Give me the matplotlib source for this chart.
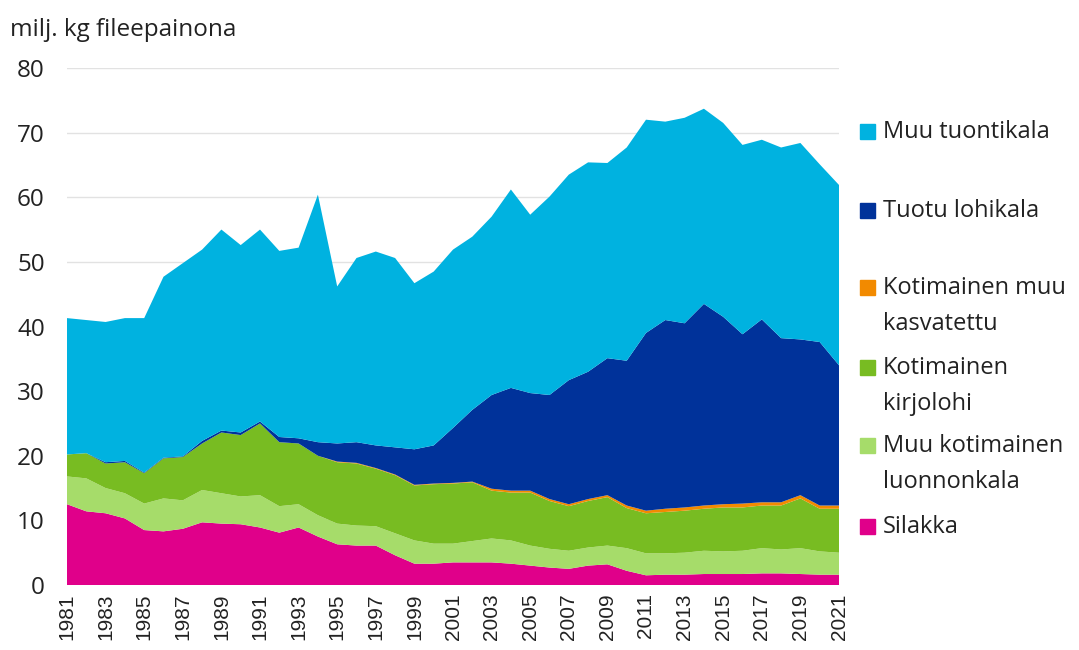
import matplotlib.pyplot as plt
from matplotlib.patches import Rectangle
import numpy as np

years = list(range(1981, 2022))

silakka = [12.5, 11.4, 11.1, 10.3, 8.5, 8.3, 8.7, 9.7, 9.5, 9.4, 8.9, 8.1, 8.9, 7.5, 6.3, 6.1, 6.1, 4.6, 3.3, 3.3,
           3.5, 3.5, 3.5, 3.3, 3.0, 2.7, 2.5, 3.0, 3.2, 2.2, 1.5, 1.6, 1.6, 1.7, 1.7, 1.7, 1.8, 1.8, 1.7, 1.6, 1.6]
muu_kotimainen = [4.3, 5.1, 3.9, 3.9, 4.1, 5.1, 4.4, 5.0, 4.7, 4.3, 5.0, 4.1, 3.6, 3.3, 3.2, 3.1, 3.0, 3.4, 3.6, 3.1,
                  2.9, 3.3, 3.7, 3.6, 3.1, 2.9, 2.8, 2.8, 2.9, 3.5, 3.4, 3.3, 3.4, 3.6, 3.5, 3.6, 3.9, 3.7, 4.0, 3.6, 3.4]
kirjolohi = [3.4, 3.9, 3.8, 4.8, 4.7, 6.2, 6.7, 7.2, 9.4, 9.5, 11.1, 9.9, 9.4, 9.2, 9.5, 9.6, 8.9, 9.0, 8.5, 9.2,
             9.3, 9.1, 7.4, 7.4, 8.2, 7.4, 6.9, 7.2, 7.5, 6.2, 6.2, 6.4, 6.5, 6.5, 6.8, 6.7, 6.6, 6.8, 7.7, 6.6, 6.8]
muu_kasvatettu = [0, 0, 0, 0, 0, 0, 0, 0, 0, 0, 0, 0, 0, 0, 0.1, 0.1, 0.1, 0.1, 0.1, 0.1,
                  0.1, 0.1, 0.3, 0.3, 0.3, 0.3, 0.3, 0.3, 0.3, 0.4, 0.4, 0.5, 0.5, 0.5, 0.5, 0.6, 0.5, 0.5, 0.5, 0.5, 0.5]
tuotu_lohikala = [0, 0, 0.2, 0.2, 0.1, 0.1, 0.1, 0.4, 0.3, 0.4, 0.3, 0.8, 0.8, 2.1, 2.8, 3.2, 3.5, 4.2, 5.5, 5.9,
                  8.5, 11.1, 14.5, 15.9, 15.1, 16.1, 19.2, 19.7, 21.2, 22.4, 27.5, 29.2, 28.5, 31.2, 29.0, 26.2, 28.3,
                  25.4, 24.1, 25.3, 21.7]
muu_tuontikala = [21.1, 20.6, 21.7, 22.1, 23.9, 28.0, 29.9, 29.6, 31.1, 29.0, 29.7, 28.8, 29.5, 38.3, 24.3, 28.5,
                  30.0, 29.3, 25.7, 26.9, 27.6, 26.8, 27.6, 30.7, 27.6, 30.7, 31.8, 32.4, 30.2, 33.0, 33.0, 30.7,
                  31.8, 30.2, 30.0, 29.3, 27.8, 29.5, 30.4, 27.5, 27.9]

series = [silakka, muu_kotimainen, kirjolohi, muu_kasvatettu, tuotu_lohikala, muu_tuontikala]
colors = ['#E0008A', '#A6DC6A', '#78BC22', '#F28A00', '#00329A', '#00B2E0']

# legend entries, top to bottom, with the centre of their first line in figure pixels
legend_labels = [['Muu tuontikala'], ['Tuotu lohikala'], ['Kotimainen muu', 'kasvatettu'],
                 ['Kotimainen', 'kirjolohi'], ['Muu kotimainen', 'luonnonkala'], ['Silakka']]
legend_colors = ['#00B2E0', '#00329A', '#F28A00', '#78BC22', '#A6DC6A', '#E0008A']
legend_y = [132, 211, 288, 368, 446, 527]
line_gap = 36

W, H = 1079, 650
fig = plt.figure(figsize=(W / 100, H / 100), dpi=100)
ax = fig.add_axes([67 / W, 1 - 585 / H, (839 - 67) / W, (585 - 68) / H])

ax.stackplot(years, *series, colors=colors, linewidth=0)

ax.set_xlim(1981, 2021)
ax.set_ylim(0, 80)
ax.set_yticks(range(0, 81, 10))
ax.set_xticks(years[::2])
ax.set_xticklabels([str(y) for y in years[::2]], rotation=90, fontsize=15,
                   family='Liberation Sans', color='#222222')
for lab in ax.get_yticklabels():
    lab.set_family('Open Sans')
    lab.set_fontsize(17.5)
    lab.set_color('#222222')
ax.tick_params(axis='y', length=0, pad=16)
ax.tick_params(axis='x', length=0, pad=6)
ax.grid(axis='y', color='#E2E2E2', linewidth=1)
ax.set_axisbelow(True)
for s in ax.spines.values():
    s.set_visible(False)

fig.text(10 / W, 1 - 30 / H, 'milj. kg fileepainona', fontsize=17.5, family='Open Sans',
         color='#222222', va='center', ha='left')

# legend drawn by hand to follow the uneven spacing of the original
for lines, col, yp in zip(legend_labels, legend_colors, legend_y):
    fig.patches.append(Rectangle((860 / W, 1 - (yp + 7) / H), 15 / W, 15 / H,
                                 transform=fig.transFigure, color=col, figure=fig))
    for k, line in enumerate(lines):
        fig.text(883 / W, 1 - (yp + k * line_gap) / H, line, fontsize=17, family='Open Sans',
                 color='#222222', va='center', ha='left')

fig.savefig('out.png', dpi=100)
